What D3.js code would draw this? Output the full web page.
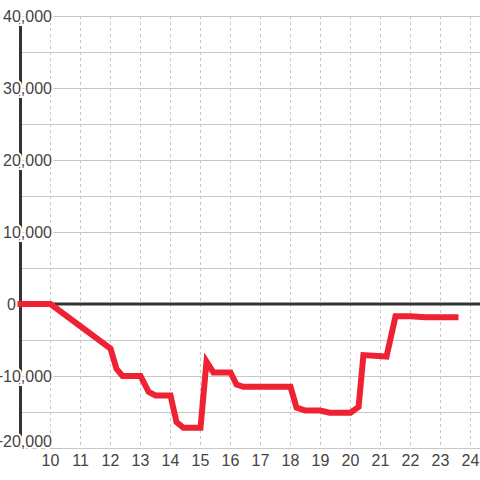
<!DOCTYPE html>
<html>
<head>
<meta charset="utf-8">
<script src="https://cdn.jsdelivr.net/npm/d3@7"></script>
<style>
  body { margin: 0; background: #fff; }
  svg { display: block; font-family: "Liberation Sans", Arial, sans-serif; }
</style>
</head>
<body>
<svg width="480" height="480"></svg>
<script>
// data
const hours = [9, 10, 12, 12.2, 12.4, 13, 13.27, 13.5, 14, 14.2, 14.43, 15, 15.2, 15.43, 16,
  16.2, 16.43, 18, 18.2, 18.5, 19, 19.3, 20, 20.27, 20.43, 21.2, 21.5, 22, 22.5, 23.5];
const values = [0, 0, -6200, -9000, -10000, -10000, -12200, -12700, -12700, -16400, -17200, -17200,
  -8000, -9500, -9500, -11200, -11500, -11500, -14400, -14800, -14800, -15100, -15100, -14300,
  -7100, -7300, -1700, -1700, -1850, -1850];
const xTicks = [10, 11, 12, 13, 14, 15, 16, 17, 18, 19, 20, 21, 22, 23, 24];
const yGrid = [-20000, -15000, -10000, -5000, 0, 5000, 10000, 15000, 20000, 25000, 30000, 35000, 40000];
const yLabels = [-20000, -10000, 0, 10000, 20000, 30000, 40000];

const svg = d3.select("svg");
const width = +svg.attr("width");

const x = d3.scaleLinear().domain([9, 24]).range([20.5, 470.5]);
const y = d3.scaleLinear().domain([-20000, 40000]).range([448, 16]);
const fmt = d3.format(",");

// horizontal grid
svg.append("g")
  .selectAll("line")
  .data(yGrid)
  .enter().append("line")
    .attr("x1", x(9))
    .attr("x2", width)
    .attr("y1", d => y(d) + 0.5)
    .attr("y2", d => y(d) + 0.5)
    .attr("stroke", "#c8c8c8")
    .attr("stroke-width", 1);

// vertical dashed grid
svg.append("g")
  .selectAll("line")
  .data(xTicks)
  .enter().append("line")
    .attr("x1", d => x(d))
    .attr("x2", d => x(d))
    .attr("y1", y(40000))
    .attr("y2", y(-20000))
    .attr("stroke", "#c8c8c8")
    .attr("stroke-dasharray", "3,3");

// zero line and y axis line
svg.append("line")
  .attr("x1", x(9)).attr("x2", width)
  .attr("y1", y(0)).attr("y2", y(0))
  .attr("stroke", "#333").attr("stroke-width", 3);

svg.append("line")
  .attr("x1", x(9)).attr("x2", x(9))
  .attr("y1", y(40000)).attr("y2", y(-20000))
  .attr("stroke", "#333").attr("stroke-width", 3);

// y labels with white halo; "0" sits left of the axis, bottom label kept above the x labels
svg.append("g")
  .selectAll("text")
  .data(yLabels)
  .enter().append("text")
    .attr("x", d => d === 0 ? 16 : 52)
    .attr("y", d => Math.min(y(d) + 5.5, 447))
    .attr("text-anchor", "end")
    .attr("font-size", 16)
    .attr("fill", "#444")
    .attr("stroke", "#fff")
    .attr("stroke-width", 4)
    .attr("paint-order", "stroke")
    .text(d => fmt(d));

// the series
const line = d3.line()
  .x((d, i) => x(hours[i]))
  .y(d => y(d));

svg.append("path")
  .datum(values)
  .attr("d", line)
  .attr("fill", "none")
  .attr("stroke", "#ee2233")
  .attr("stroke-width", 6)
  .attr("stroke-linecap", "square");

// x labels
svg.append("g")
  .selectAll("text")
  .data(xTicks)
  .enter().append("text")
    .attr("x", d => x(d))
    .attr("y", 466)
    .attr("text-anchor", "middle")
    .attr("font-size", 16)
    .attr("fill", "#444")
    .text(d => d);
</script>
</body>
</html>
